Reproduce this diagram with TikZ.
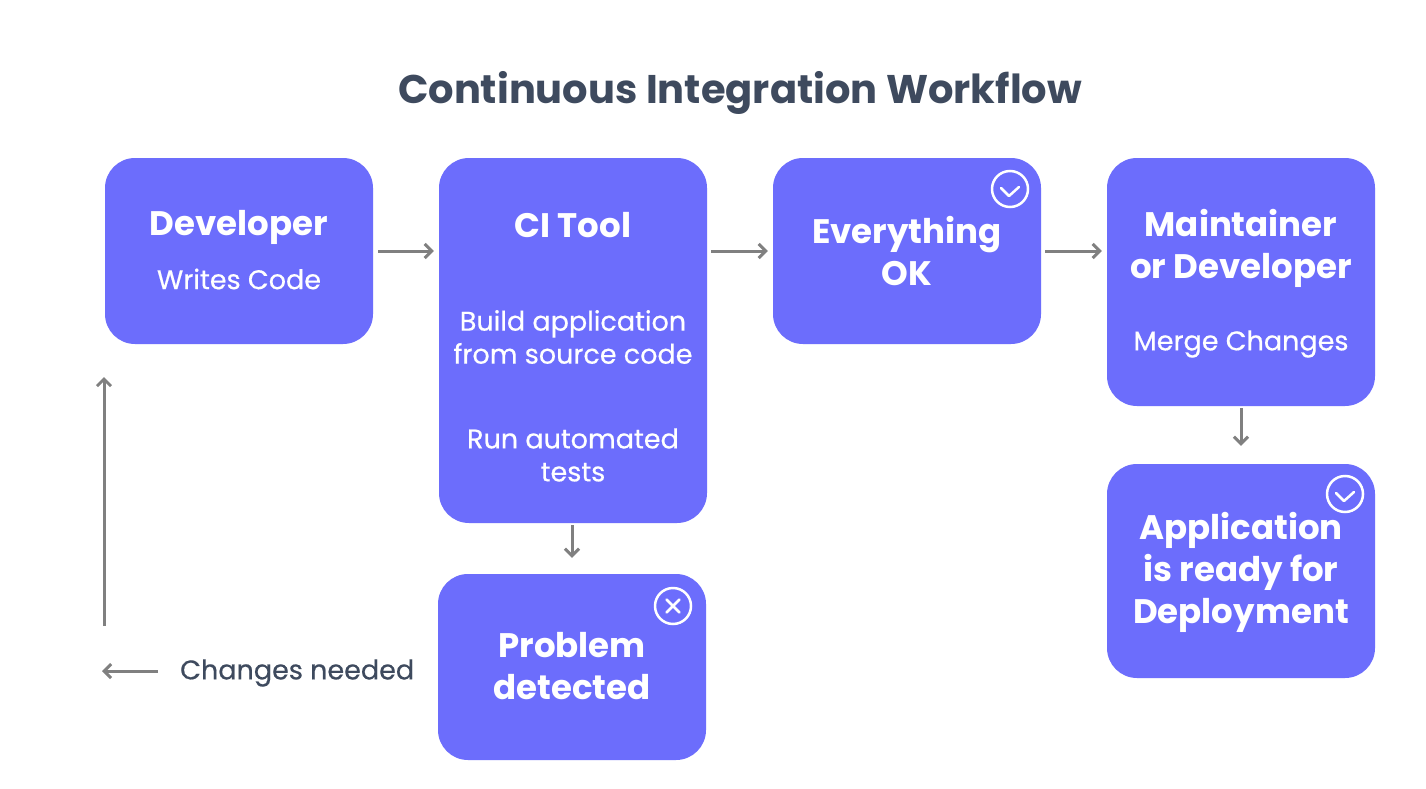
\documentclass[tikz,border=0pt]{standalone}
\usepackage{fontspec}
\setmainfont{Poppins}
\newfontfamily\medfont{Poppins}[FakeBold=0.5]
\usetikzlibrary{arrows.meta}
\definecolor{boxc}{HTML}{6C6DFC}
\definecolor{titlec}{HTML}{3E4A5E}
\definecolor{arrc}{HTML}{808080}
\tikzset{
  card/.style={draw=none, fill=boxc, rounded corners=30pt, inner sep=0pt},
  head/.style={text=white, font=\bfseries\fontsize{34}{42}\selectfont, align=center, inner sep=0pt},
  sub/.style={text=white, font=\medfont\fontsize{27}{33}\selectfont, align=center, inner sep=0pt},
  flow/.style={draw=arrc, line width=3pt, -{Straight Barb[length=7pt,width=14pt,line width=3pt]}},
  icon/.style={draw=white, line width=2.5pt, circle, minimum size=36pt, inner sep=0pt},
  tick/.style={white, line width=2.5pt, line cap=round, line join=round},
}
\begin{document}
\begin{tikzpicture}[x=1pt,y=-1pt]
\useasboundingbox[fill=white] (0,0) rectangle (1426,789);
\node[text=titlec, font=\bfseries\fontsize{40}{46}\selectfont, inner sep=0pt] (title) at (740,93) {Continuous Integration Workflow};

% boxes
\node[card, minimum width=268pt, minimum height=186pt] (dev) at (239,251) {};
\node[card, minimum width=268pt, minimum height=365pt] (ci) at (573,340.5) {};
\node[card, minimum width=268pt, minimum height=186pt] (ok) at (907,251) {};
\node[card, minimum width=268pt, minimum height=248pt] (mnt) at (1241,282) {};
\node[card, minimum width=268pt, minimum height=214pt] (app) at (1241,571) {};
\node[card, minimum width=268pt, minimum height=186pt] (prob) at (572,667) {};

% texts
\node[head] (devh) at (239,227) {Developer};
\node[sub] (devs) at (239,279) {Writes Code};
\node[head] (cih) at (573,225) {CI Tool};
\node[sub] (cib) at (573,337) {Build application\\from source code};
\node[sub] (cir) at (573,455) {Run automated\\tests};
\node[head] (okh) at (907,251) {Everything\\OK};
\node[head] (mnth) at (1241,248) {Maintainer\\or Developer};
\node[sub] (mnts) at (1241,344) {Merge Changes};
\node[head] (apph) at (1241,572) {Application\\is ready for\\Deployment};
\node[head] (probh) at (572,666) {Problem\\detected};

% icons
\node[icon] (okic) at (1010,189) {};
\draw[tick] ([shift={(-9,-1)}]okic.center) -- ([shift={(-1,7)}]okic.center) -- ([shift={(9,-2)}]okic.center);
\node[icon] (appic) at (1345,494) {};
\draw[tick] ([shift={(-9,-1)}]appic.center) -- ([shift={(-1,7)}]appic.center) -- ([shift={(9,-2)}]appic.center);
\node[icon] (probic) at (673,606) {};
\draw[tick] ([shift={(-6.5,-6.5)}]probic.center) -- ([shift={(6.5,6.5)}]probic.center);
\draw[tick] ([shift={(-6.5,6.5)}]probic.center) -- ([shift={(6.5,-6.5)}]probic.center);

% changes needed
\node[text=titlec, font=\medfont\fontsize{27}{30}\selectfont, anchor=west, inner sep=0pt] (chg) at (180,673) {Changes needed};
\coordinate (chgend) at (102,671);
\coordinate (loopbot) at (104,626);

% arrows
\draw[flow] ([xshift=5pt]dev.east) -- ([xshift=-5pt]dev.east -| ci.west);
\draw[flow] ([xshift=4pt]ci.east |- ok.west) -- ([xshift=-5pt]ok.west);
\draw[flow] ([xshift=4pt]ok.east) -- ([xshift=-5pt]ok.east -| mnt.west);
\draw[flow] ([yshift=-2pt]mnt.south) -- ([yshift=18pt]app.north);
\draw[flow] ([yshift=-2pt]ci.south -| prob.north) -- ([yshift=16pt]prob.north);
\draw[flow] ([xshift=-22pt]chg.west |- chgend) -- (chgend);
\draw[flow] (loopbot) -- (loopbot |- {(0,377)});
\end{tikzpicture}
\end{document}
